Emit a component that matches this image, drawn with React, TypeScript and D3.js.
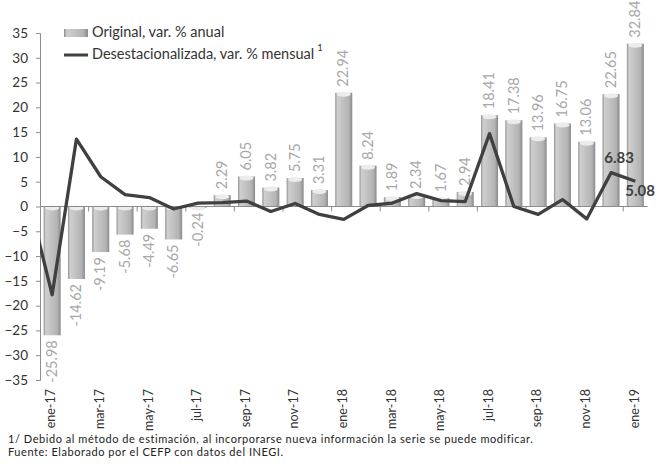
import React, { useEffect, useRef } from "react";
import * as d3 from "d3";

const months = [
  "ene-17", "feb-17", "mar-17", "abr-17", "may-17", "jun-17", "jul-17", "ago-17",
  "sep-17", "oct-17", "nov-17", "dic-17", "ene-18", "feb-18", "mar-18", "abr-18",
  "may-18", "jun-18", "jul-18", "ago-18", "sep-18", "oct-18", "nov-18", "dic-18", "ene-19",
];

// Original, var. % anual
const original = [
  -25.98, -14.62, -9.19, -5.68, -4.49, -6.65, -0.24, 2.29, 6.05, 3.82, 5.75, 3.31,
  22.94, 8.24, 1.89, 2.34, 1.67, 2.94, 18.41, 17.38, 13.96, 16.75, 13.06, 22.65, 32.84,
];

// Desestacionalizada, var. % mensual (first value is dic-16, clipped at the axis)
const prevMonth = 2.1;
const desest = [
  -17.8, 13.6, 6.0, 2.4, 1.8, -0.5, 0.7, 0.8, 1.1, -1.0, 0.6, -1.6,
  -2.6, 0.2, 0.7, 2.6, 1.2, 1.0, 14.7, 0.0, -1.6, 1.4, -2.5, 6.83, 5.08,
];

const yTicks = d3.range(-35, 36, 5);
const labelEvery = 2;

const font = "Lato, 'Open Sans', sans-serif";

export default function App() {
  const ref = useRef<SVGSVGElement>(null);

  useEffect(() => {
    const svg = d3.select(ref.current);
    svg.selectAll("*").remove();

    const left = 40, right = 647.5, top = 33, bottom = 380;

    const x = d3.scaleBand().domain(months).range([left, right]).paddingInner(0.3).paddingOuter(0.15);
    const y = d3.scaleLinear().domain([-35, 35]).range([bottom, top]);
    const step = x.step();
    const bw = x.bandwidth();
    const cx = (m: string) => (x(m) as number) + bw / 2;

    const defs = svg.append("defs");
    const grad = defs.append("linearGradient").attr("id", "barGrad").attr("x1", 0).attr("x2", 1).attr("y1", 0).attr("y2", 0);
    [
      [0, "#8f8f8f"], [0.12, "#cfcfcf"], [0.35, "#c6c6c6"], [0.8, "#b3b3b3"], [1, "#8a8a8a"],
    ].forEach(([o, c]) => grad.append("stop").attr("offset", o as number).attr("stop-color", c as string));
    defs.append("clipPath").attr("id", "plotClip")
      .append("rect").attr("x", left).attr("y", 0).attr("width", right - left).attr("height", 464);

    // y axis
    const yAxis = svg.append("g")
      .attr("transform", `translate(${left},0)`)
      .call(d3.axisLeft(y).tickValues(yTicks).tickSize(4).tickPadding(8));
    yAxis.select(".domain").attr("stroke", "#8c8c8c");
    yAxis.selectAll(".tick line").attr("stroke", "#8c8c8c");
    yAxis.selectAll(".tick text").attr("font-family", font).attr("font-size", 13.5).attr("fill", "#333");

    // bars
    const bars = svg.append("g");
    months.forEach((m, i) => {
      const v = original[i];
      const y0 = y(Math.max(0, v));
      const h = Math.abs(y(v) - y(0));
      bars.append("rect").attr("x", x(m) as number).attr("y", y0).attr("width", bw).attr("height", h)
        .attr("fill", "url(#barGrad)");
      bars.append("ellipse").attr("cx", cx(m)).attr("cy", y0 + 1.5).attr("rx", bw / 2 - 1.5).attr("ry", 2.5)
        .attr("fill", "#ececec");
    });

    // bar labels
    svg.append("g").selectAll("text").data(months).join("text")
      .attr("transform", (m, i) => {
        const v = original[i];
        const yy = v >= 0 ? y(v) - 6 : y(v) + 5;
        return `translate(${cx(m) + 1},${yy}) rotate(-90)`;
      })
      .attr("text-anchor", (m, i) => (original[i] >= 0 ? "start" : "end"))
      .attr("dominant-baseline", "middle")
      .attr("font-family", font).attr("font-size", 14.5).attr("fill", "#a8a8a8")
      .text((m, i) => original[i].toFixed(2));

    // zero line and category ticks
    svg.append("line").attr("x1", left).attr("x2", right).attr("y1", y(0)).attr("y2", y(0))
      .attr("stroke", "#8c8c8c").attr("stroke-width", 1);
    svg.append("g").selectAll("line")
      .data(months.filter((m, i) => i > 0 && i % labelEvery === 0))
      .join("line")
      .attr("x1", (m) => (x(m) as number) - (step - bw) / 2)
      .attr("x2", (m) => (x(m) as number) - (step - bw) / 2)
      .attr("y1", y(0)).attr("y2", y(0) + 5)
      .attr("stroke", "#8c8c8c");

    // line series
    const pts: [number, number][] = [[cx(months[0]) - step, y(prevMonth)]].concat(
      months.map((m, i) => [cx(m), y(desest[i])] as [number, number])
    );
    svg.append("path").attr("d", d3.line()(pts)).attr("fill", "none")
      .attr("stroke", "#404040").attr("stroke-width", 3.3).attr("stroke-linejoin", "round")
      .attr("clip-path", "url(#plotClip)");

    const n = months.length;
    svg.append("text").attr("x", cx(months[n - 2]) + 8).attr("y", y(desest[n - 2]) - 10)
      .attr("text-anchor", "middle").attr("font-family", font).attr("font-size", 15).attr("font-weight", "bold")
      .attr("fill", "#404040").text(desest[n - 2].toFixed(2));
    svg.append("text").attr("x", cx(months[n - 1]) - 10).attr("y", y(desest[n - 1]) + 15)
      .attr("text-anchor", "start").attr("font-family", font).attr("font-size", 15).attr("font-weight", "bold")
      .attr("fill", "#404040").text(desest[n - 1].toFixed(2));

    // x labels
    svg.append("g").selectAll("text")
      .data(months.filter((m, i) => i % labelEvery === 0))
      .join("text")
      .attr("transform", (m) => `translate(${cx(m)},${bottom + 9}) rotate(-90)`)
      .attr("text-anchor", "end").attr("dominant-baseline", "middle")
      .attr("font-family", font).attr("font-size", 12.5).attr("fill", "#333")
      .text((m) => m);

    // legend
    const lg = svg.append("g").attr("font-family", font).attr("font-size", 14.5).attr("fill", "#333");
    lg.append("rect").attr("x", 64).attr("y", 29).attr("width", 24).attr("height", 8).attr("fill", "url(#barGrad)");
    lg.append("text").attr("x", 92).attr("y", 33).attr("dominant-baseline", "middle").text("Original, var. % anual");
    lg.append("line").attr("x1", 64).attr("x2", 88).attr("y1", 55).attr("y2", 55).attr("stroke", "#404040").attr("stroke-width", 3);
    const t2 = lg.append("text").attr("x", 92).attr("y", 55).attr("dominant-baseline", "middle");
    t2.append("tspan").text("Desestacionalizada, var. % mensual");
    t2.append("tspan").attr("dx", 3).attr("dy", -6).attr("font-size", 9.5).text("1");

    // notes
    const nt = svg.append("g").attr("font-family", font).attr("font-size", 11).attr("letter-spacing", 0.55).attr("fill", "#222");
    nt.append("text").attr("x", 8).attr("y", 443)
      .text("1/  Debido al método de estimación, al incorporarse nueva información la serie se puede modificar.");
    nt.append("text").attr("x", 8).attr("y", 456).text("Fuente:  Elaborado por el CEFP con datos del INEGI.");
  }, []);

  return (
    <svg ref={ref} width={659} height={464} style={{ position: "absolute", left: 0, top: 0, background: "#fff" }} />
  );
}
